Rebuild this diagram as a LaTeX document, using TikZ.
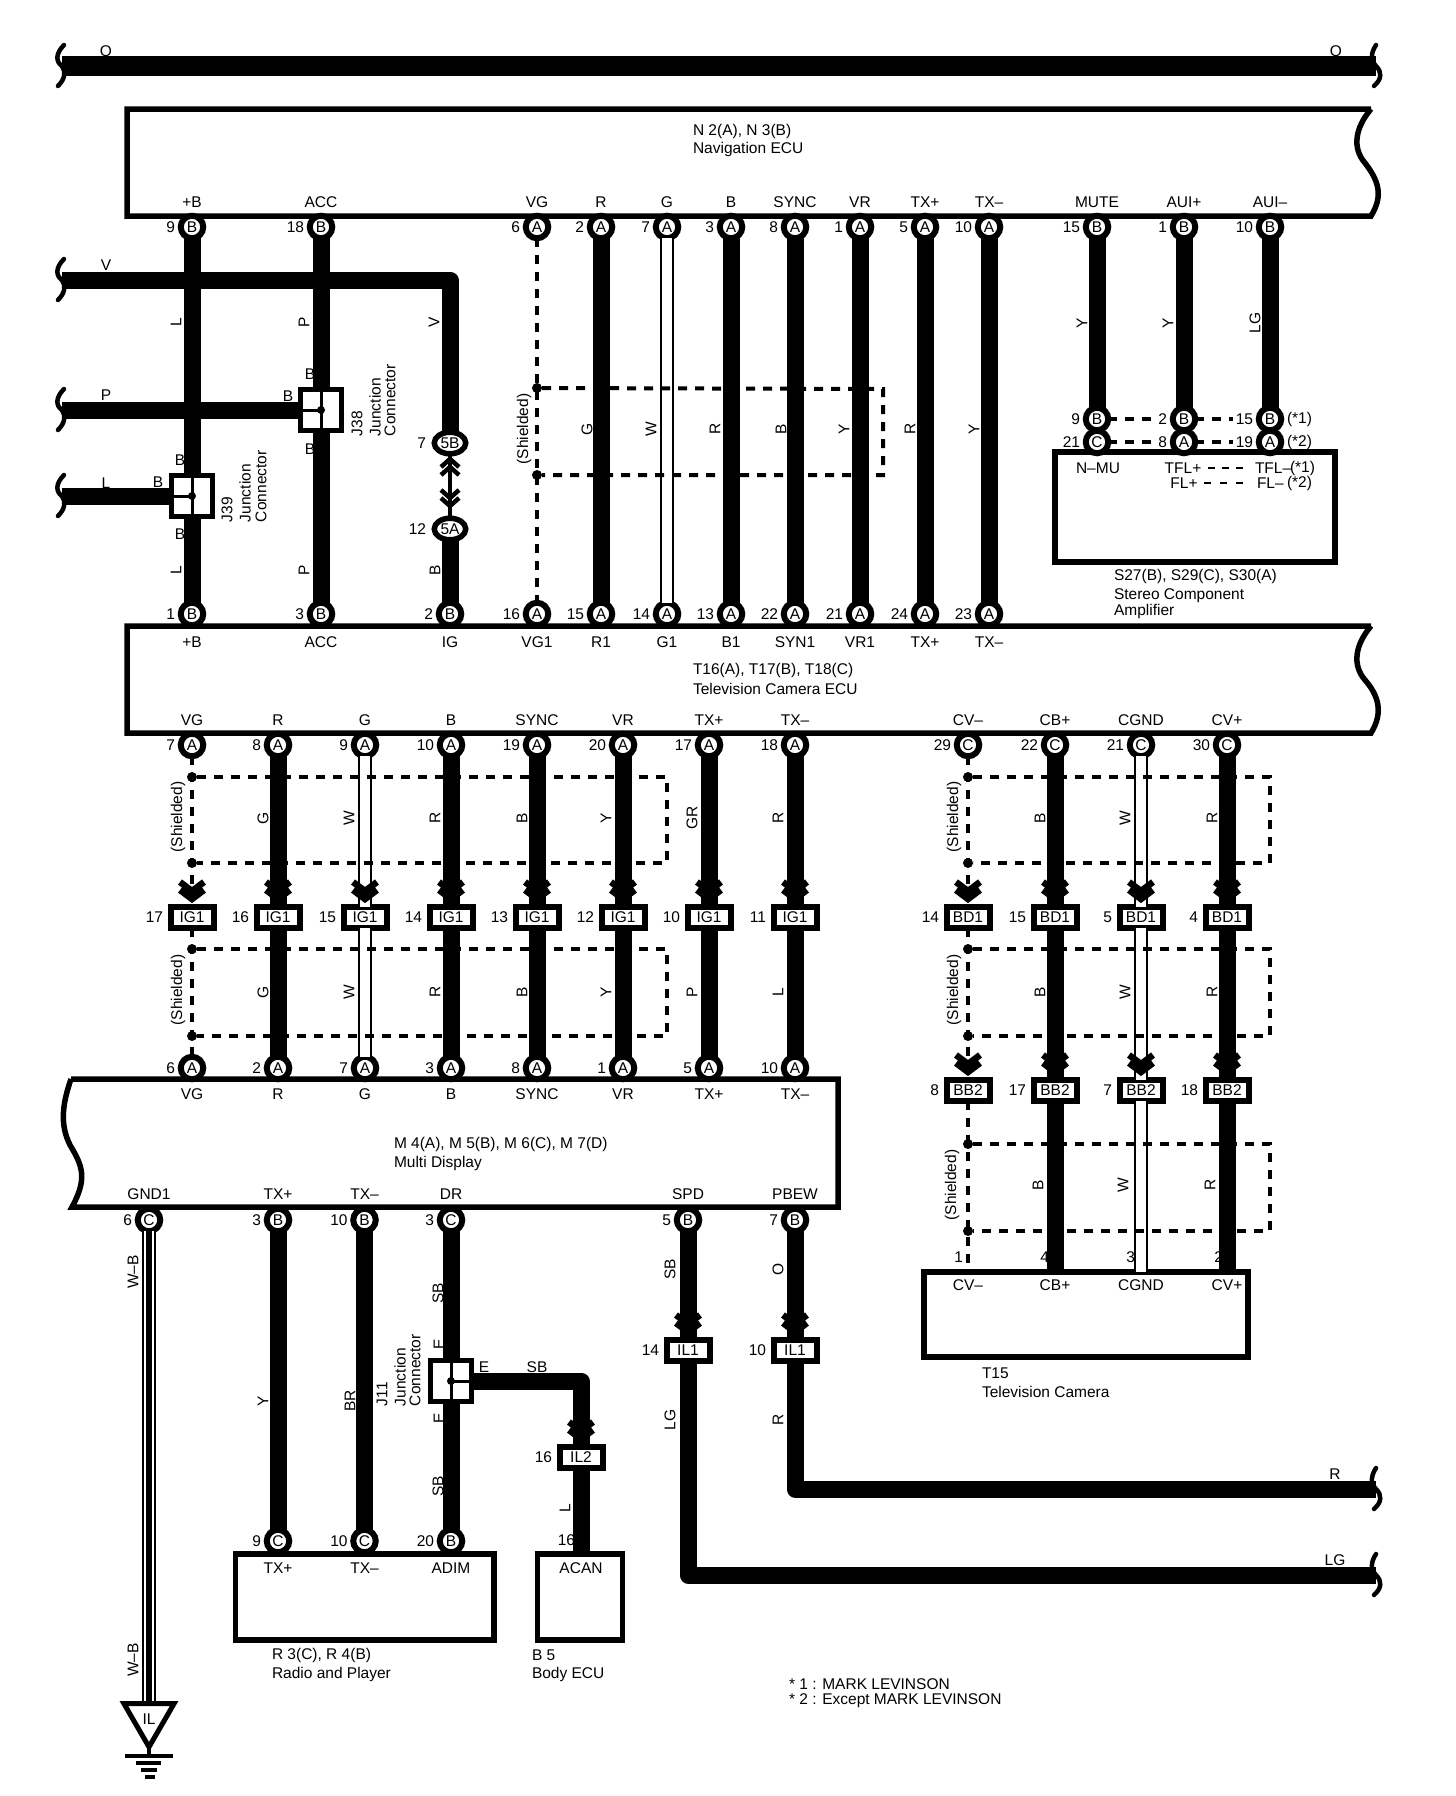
\documentclass[tikz,border=0pt]{standalone}
\usepackage{fontspec}
\setmainfont{Liberation Sans}
\usetikzlibrary{shapes.geometric,calc}
\newcounter{txt}
\tikzset{
 x=1pt,y=-1pt,
 every node/.style={font=\fontsize{15.5}{16}\selectfont,inner sep=0pt,outer sep=0pt,text=black},
 pin/.style={circle,draw=black,line width=6pt,fill=white,minimum size=22.5pt},
 conn/.style={rectangle,draw=black,line width=6pt,fill=white,minimum width=43pt,minimum height=21pt},
 pill/.style={ellipse,draw=black,line width=5.5pt,fill=white,minimum width=31.5pt,minimum height=21.5pt},
 jbox/.style={rectangle,draw=black,line width=5.5pt,fill=white,minimum width=41pt,minimum height=41pt},
 wire/.style={draw=black,line width=17pt,line join=round,line cap=butt},
 wwire/.style={draw=black,line width=1.8pt,double=white,double distance=9.5pt},
 shield/.style={draw=black,line width=4pt,dash pattern=on 9pt off 8pt},
 dotn/.style={circle,fill=black,minimum size=10pt},
 sdot/.style={circle,fill=black,minimum size=8pt},
 blockline/.style={draw=black,line width=5.5pt,line join=miter},
 chevron/.style={draw=black,line width=6.5pt,line join=miter},
 wave/.style={draw=black,line width=4.5pt,line cap=round},
 inner/.style={draw=black,line width=3pt},
}
\newcommand{\lab}[3]{\stepcounter{txt}\node (txt\arabic{txt}) at (#1,#2) {#3};}
\newcommand{\llab}[3]{\stepcounter{txt}\node[anchor=west] (txt\arabic{txt}) at (#1,#2) {#3};}
\newcommand{\rlab}[3]{\stepcounter{txt}\node[rotate=90] (txt\arabic{txt}) at (#1,#2) {#3};}
\newcommand{\rlabb}[3]{\stepcounter{txt}\node[rotate=90,anchor=west] (txt\arabic{txt}) at (#1,#2) {#3};}
\newcommand{\numlab}[3]{\stepcounter{txt}\node[anchor=east] (txt\arabic{txt}) at (#1,#2) {#3};}
\newcommand{\wavel}[2]{\draw[wave] (#1+4,#2-21) .. controls (#1-5,#2-12) and (#1-4,#2-4) .. (#1+2,#2) .. controls (#1+6,#2+6) and (#1+5,#2+13) .. (#1-2,#2+20);}
\newcommand{\waver}[2]{\draw[wave] (#1+2,#2-21) .. controls (#1-4,#2-12) and (#1-3,#2-4) .. (#1+2,#2) .. controls (#1+8,#2+6) and (#1+8,#2+13) .. (#1,#2+20);}
\newcommand{\chev}[2]{\draw[chevron] (#1-12,#2) -- (#1,#2+9) -- (#1+12,#2) (#1-12,#2+8) -- (#1,#2+17) -- (#1+12,#2+8);}
\begin{document}
\begin{tikzpicture}
\useasboundingbox (0,0) rectangle (1456,1796);
\fill[white] (0,0) rectangle (1456,1796);

% blocks
\draw[blockline] (1371,109) -- (127,109) -- (127,216) -- (1371,216) .. controls (1384,195) and (1378,180) .. (1365,163) .. controls (1352,148) and (1355,128) .. (1371,109);
\draw[blockline] (1371,626) -- (127,626) -- (127,733) -- (1371,733) .. controls (1384,712) and (1378,695) .. (1365,680) .. controls (1352,665) and (1355,645) .. (1371,626);
\draw[blockline] (71,1079) -- (838,1079) -- (838,1207) -- (72,1207) .. controls (88,1178) and (82,1165) .. (70,1145) .. controls (60,1125) and (62,1105) .. (71,1079);
\draw[blockline] (1055,452) rectangle (1335,562);
\draw[blockline] (924,1272) rectangle (1248,1357);
\draw[blockline] (235.5,1554) rectangle (494,1640);
\draw[blockline] (537.5,1554) rectangle (622.5,1640);

% pins
\foreach \n/\x/\l/\m/\t in {1/192/B/9/+B,2/321/B/18/ACC,3/537/A/6/VG,4/601/A/2/R,5/667/A/7/G,6/731/A/3/B,7/795/A/8/SYNC,8/860/A/1/VR,9/925/A/5/TX+,10/989/A/10/TX–,11/1097/B/15/MUTE,12/1184/B/1/AUI+,13/1270/B/10/AUI–}{
  \node[pin] (n\n) at (\x,227) {\l}; \numlab{\x-17}{227}{\m} \lab{\x}{202}{\t}}
\foreach \n/\x/\l/\m/\t in {1/192/B/1/+B,2/321/B/3/ACC,3/450/B/2/IG,4/537/A/16/VG1,5/601/A/15/R1,6/667/A/14/G1,7/731/A/13/B1,8/795/A/22/SYN1,9/860/A/21/VR1,10/925/A/24/TX+,11/989/A/23/TX–}{
  \node[pin] (t\n) at (\x,614) {\l}; \numlab{\x-17}{614}{\m} \lab{\x}{642}{\t}}
\foreach \n/\x/\l/\m/\t in {1/192/A/7/VG,2/278/A/8/R,3/365/A/9/G,4/451/A/10/B,5/537/A/19/SYNC,6/623/A/20/VR,7/709/A/17/TX+,8/795/A/18/TX–,9/968/C/29/CV–,10/1055/C/22/CB+,11/1141/C/21/CGND,12/1227/C/30/CV+}{
  \node[pin] (u\n) at (\x,745) {\l}; \numlab{\x-17}{745}{\m} \lab{\x}{720}{\t}}
\foreach \n/\x/\l/\m/\t in {1/192/A/6/VG,2/278/A/2/R,3/365/A/7/G,4/451/A/3/B,5/537/A/8/SYNC,6/623/A/1/VR,7/709/A/5/TX+,8/795/A/10/TX–}{
  \node[pin] (m\n) at (\x,1068) {\l}; \numlab{\x-17}{1068}{\m} \lab{\x}{1094}{\t}}
\foreach \n/\x/\l/\m/\t in {1/149/C/6/GND1,2/278/B/3/TX+,3/364.5/B/10/TX–,4/451/C/3/DR,5/688/B/5/SPD,6/795/B/7/PBEW}{
  \node[pin] (b\n) at (\x,1220) {\l}; \numlab{\x-17}{1220}{\m} \lab{\x}{1194}{\t}}
\foreach \n/\x/\l/\m/\t in {1/278/C/9/TX+,2/364.5/C/10/TX–,3/451/B/20/ADIM}{
  \node[pin] (r\n) at (\x,1541) {\l}; \numlab{\x-17}{1541}{\m} \lab{\x}{1568}{\t}}
\foreach \n/\x/\a/\ma/\b/\mb in {1/1097/B/9/C/21,2/1184/B/2/A/8,3/1270/B/15/A/19}{
  \node[pin] (sa\n) at (\x,419) {\a}; \numlab{\x-17}{419}{\ma}
  \node[pin] (sb\n) at (\x,442) {\b}; \numlab{\x-17}{442}{\mb}}

% inline connectors
\foreach \n/\x/\m in {1/192/17,2/278/16,3/365/15,4/451/14,5/537/13,6/623/12,7/709/10,8/795/11}{
  \node[conn] (ig\n) at (\x,917) {IG1}; \numlab{\x-29}{917}{\m}}
\foreach \n/\x/\m in {1/968/14,2/1055/15,3/1141/5,4/1227/4}{
  \node[conn] (bd\n) at (\x,917) {BD1}; \numlab{\x-29}{917}{\m}}
\foreach \n/\x/\m in {1/968/8,2/1055/17,3/1141/7,4/1227/18}{
  \node[conn] (bb\n) at (\x,1090) {BB2}; \numlab{\x-29}{1090}{\m}}
\node[conn] (il1a) at (688,1350) {IL1}; \numlab{659}{1350}{14}
\node[conn] (il1b) at (795,1350) {IL1}; \numlab{766}{1350}{10}
\node[conn] (il2) at (581,1457) {IL2}; \numlab{552}{1457}{16}
\node[pill] (p5b) at (450,443) {5B}; \numlab{426}{443}{7}
\node[pill] (p5a) at (450,529) {5A}; \numlab{426}{529}{12}

% junctions
\node[jbox] (j38) at (321,410) {};
\node[jbox] (j39) at (192,496) {};
\node[jbox] (j11) at (451,1381) {};
\foreach \j in {j38,j39}{
  \draw[inner] (\j.north) -- (\j.south) (\j.west) -- (\j.center);
  \node[sdot] (\j d) at (\j.center) {};}
\draw[inner] (j11.north) -- (j11.south) (j11.center) -- (j11.east);
\node[sdot] (j11d) at (j11.center) {};

% coordinates for free ends and corners
\coordinate (oL) at (62,66); \coordinate (oR) at (1376,66);
\coordinate (vL) at (62,280); \coordinate (vC) at (450,280);
\coordinate (pL) at (62,410); \coordinate (lL) at (62,496);
\coordinate (rC) at (795,1489); \coordinate (rR) at (1376,1489);
\coordinate (lgC) at (688,1575); \coordinate (lgR) at (1376,1575);
\coordinate (sbC) at (581,1381);
\coordinate (b5t) at (581,1554);
\coordinate (cv) at (968,1272); \coordinate (cb) at (1055,1272); \coordinate (cg) at (1141,1272); \coordinate (cp) at (1227,1272);
\coordinate (gnd) at (149,1703);

% white wires
\draw[wwire] (n5) -- (t6);
\draw[wwire] (u3) -- (ig3); \draw[wwire] (ig3) -- (m3);
\draw[wwire] (u11) -- (bd3); \draw[wwire] (bd3) -- (bb3); \draw[wwire] (bb3) -- (cg);
\draw[wwire] (b1) -- (gnd);
\draw[draw=black,line width=6pt] (b1) -- (gnd);

% shields
\draw[shield] (n3) -- (t4);
\node[dotn] (s1a) at (537,388) {}; \node[dotn] (s1b) at (537,475) {};
\coordinate (s1c) at (883,389); \coordinate (s1d) at (883,475);
\draw[shield] (s1a) -- (s1c) -- (s1d) -- (s1b);
\draw[shield] (u1) -- (ig1); \draw[shield] (ig1) -- (m1);
\draw[shield] (u9) -- (bd1); \draw[shield] (bd1) -- (bb1); \draw[shield] (bb1) -- (cv);
\foreach \k/\a/\b/\xd/\xr in {a/777/863/192/667,b/949/1036/192/667,c/777/863/968/1270,d/949/1036/968/1270,e/1144/1231/968/1270}{
  \node[dotn] (d\k1) at (\xd,\a) {}; \node[dotn] (d\k2) at (\xd,\b) {};
  \coordinate (c\k1) at (\xr,\a); \coordinate (c\k2) at (\xr,\b);
  \draw[shield] (d\k1) -- (c\k1) -- (c\k2) -- (d\k2);}
\coordinate (e1a) at (1157,419); \coordinate (e1b) at (1233,419);
\coordinate (e2a) at (1157,442); \coordinate (e2b) at (1233,442);
\draw[shield] (sa1) -- (e1a); \draw[shield] (sa2) -- (e1b);
\draw[shield] (sb1) -- (e2a); \draw[shield] (sb2) -- (e2b);

% black wires
\draw[wire,line width=20pt] (oL) -- (oR);
\draw[wire] (n1) -- (j39); \draw[wire] (j39) -- (t1);
\draw[wire] (n2) -- (j38); \draw[wire] (j38) -- (t2);
\draw[wire] (vL) -- (vC) -- (p5b);
\draw[wire] (pL) -- (j38);
\draw[wire] (lL) -- (j39);
\draw[wire] (p5a) -- (t3);
\draw[line width=4pt] (p5b) -- (p5a);
\draw[chevron,line width=4.5pt] (441,467) -- (450,459) -- (459,467) (441,475) -- (450,467) -- (459,475);
\draw[chevron,line width=4.5pt] (441,498) -- (450,506) -- (459,498) (441,490) -- (450,498) -- (459,490);
\foreach \a/\b in {n4/t5,n6/t7,n7/t8,n8/t9,n9/t10,n10/t11,n11/sa1,n12/sa2,n13/sa3}{\draw[wire] (\a) -- (\b);}
\foreach \a/\b in {u2/ig2,u4/ig4,u5/ig5,u6/ig6,u7/ig7,u8/ig8,ig2/m2,ig4/m4,ig5/m5,ig6/m6,ig7/m7,ig8/m8,u10/bd2,u12/bd4,bd2/bb2,bd4/bb4,bb2/cb,bb4/cp,b2/r1,b3/r2,b4/j11,j11/r3,b5/il1a,b6/il1b,il2/b5t}{\draw[wire] (\a) -- (\b);}
\draw[wire] (il1a) -- (lgC) -- (lgR);
\draw[wire] (il1b) -- (rC) -- (rR);
\draw[wire] (j11) -- (sbC) -- (il2);

% chevrons
\foreach \x in {192,278,365,451,537,623,709,795,968,1055,1141,1227}{\chev{\x}{882}}
\foreach \x in {968,1055,1141,1227}{\chev{\x}{1055}}
\chev{688}{1315}\chev{795}{1315}\chev{581}{1422}

% ground
\node[draw=black,line width=5pt,regular polygon,regular polygon sides=3,shape border rotate=180,fill=white,minimum size=58pt] (gtri) at (149,1718) {};
\node (iltxt) at (149,1719) {IL};
\coordinate (g1) at (149,1756);
\draw[draw=black,line width=4pt] (gtri.south) -- (g1);
\draw[draw=black,line width=4pt] (125,1756) -- (173,1756) (136,1763) -- (161,1763) (141,1770) -- (157,1770) (145,1777) -- (155,1777);

% wave ends
\wavel{60}{66}\wavel{60}{280}\wavel{60}{410}\wavel{60}{496}
\waver{1374}{66}\waver{1374}{1489}\waver{1374}{1575}

% free labels
\lab{106}{51}{O}\lab{1336}{51}{O}\lab{106}{265}{V}\lab{106}{395}{P}\lab{106}{483}{L}
\lab{1335}{1474}{R}\lab{1335}{1560}{LG}
\llab{693}{131}{N 2(A), N 3(B)}\llab{693}{149}{Navigation ECU}
\llab{693}{670}{T16(A), T17(B), T18(C)}\llab{693}{689}{Television Camera ECU}
\llab{394}{1144}{M 4(A), M 5(B), M 6(C), M 7(D)}\llab{394}{1163}{Multi Display}
\llab{1114}{576}{S27(B), S29(C), S30(A)}\llab{1114}{596}{Stereo Component}\llab{1114}{611}{Amplifier}
\llab{982}{1373}{T15}\llab{982}{1392}{Television Camera}
\llab{272}{1655}{R 3(C), R 4(B)}\llab{272}{1674}{Radio and Player}
\llab{532}{1655}{B 5}\llab{532}{1674}{Body ECU}
\llab{789}{1684}{* 1 : MARK LEVINSON}\llab{789}{1701}{* 2 : Except MARK LEVINSON}
\lab{1098}{468}{N–MU}\lab{1183}{468}{TFL+}\llab{1255}{468}{TFL–}\llab{1290}{468}{(*1)}
\lab{1184}{483}{FL+}\llab{1257}{483}{FL–}\llab{1287}{483}{(*2)}
\llab{1287}{419}{(*1)}\llab{1287}{442}{(*2)}
\coordinate (d1a) at (1208,468); \coordinate (d1b) at (1244,468); \coordinate (d2a) at (1204,483); \coordinate (d2b) at (1249,483);
\draw[draw=black,line width=2.5pt,dash pattern=on 7pt off 7pt] (d1a) -- (d1b);
\draw[draw=black,line width=2.5pt,dash pattern=on 7pt off 9pt] (d2a) -- (d2b);
\lab{968}{1285}{CV–}\lab{1055}{1285}{CB+}\lab{1141}{1285}{CGND}\lab{1227}{1285}{CV+}
\numlab{963}{1257}{1}\numlab{1049}{1257}{4}\numlab{1135}{1257}{3}\numlab{1223}{1257}{2}
\lab{581}{1568}{ACAN}\numlab{575}{1540}{16}
\lab{484}{1367}{E}\lab{537}{1367}{SB}
\lab{310}{374}{B}\lab{288}{396}{B}\lab{310}{449}{B}
\lab{180}{460}{B}\lab{158}{482}{B}\lab{180}{534}{B}

% rotated labels
\rlab{176}{322}{L}\rlab{304}{322}{P}\rlab{434}{322}{V}
\rlab{176}{570}{L}\rlab{304}{570}{P}\rlab{435}{570}{B}
\rlab{587}{429}{G}\rlab{651}{429}{W}\rlab{715}{429}{R}\rlab{781}{429}{B}\rlab{844}{429}{Y}\rlab{910}{429}{R}\rlab{974}{429}{Y}
\rlab{1082}{323}{Y}\rlab{1168}{323}{Y}\rlab{1255}{323}{LG}
\rlab{524}{429}{(Shielded)}\rlab{178}{817}{(Shielded)}\rlab{178}{990}{(Shielded)}\rlab{954}{817}{(Shielded)}\rlab{954}{990}{(Shielded)}\rlab{952}{1185}{(Shielded)}
\foreach \x/\t in {263/G,349/W,435/R,522/B,606/Y,692/GR,778/R,1040/B,1125/W,1212/R}{\rlab{\x}{818}{\t}}
\foreach \x/\t in {263/G,349/W,435/R,522/B,606/Y,692/P,778/L,1040/B,1125/W,1212/R}{\rlab{\x}{992}{\t}}
\rlab{1038}{1185}{B}\rlab{1123}{1185}{W}\rlab{1210}{1185}{R}
\rlab{133}{1272}{W–B}\rlab{133}{1660}{W–B}
\rlab{263}{1401}{Y}\rlab{350}{1401}{BR}
\rlab{670}{1269}{SB}\rlab{670}{1420}{LG}\rlab{778}{1269}{O}\rlab{778}{1420}{R}
\rlab{438}{1293}{SB}\rlab{438}{1486}{SB}\rlab{439}{1344}{E}\rlab{439}{1418}{E}\rlab{565}{1508}{L}
\rlabb{357}{436}{J38}\rlabb{375}{436}{Junction}\rlabb{390}{436}{Connector}
\rlabb{227}{522}{J39}\rlabb{245}{522}{Junction}\rlabb{261}{522}{Connector}
\rlabb{382}{1406}{J11}\rlabb{400}{1406}{Junction}\rlabb{415}{1406}{Connector}
\end{tikzpicture}
\end{document}
